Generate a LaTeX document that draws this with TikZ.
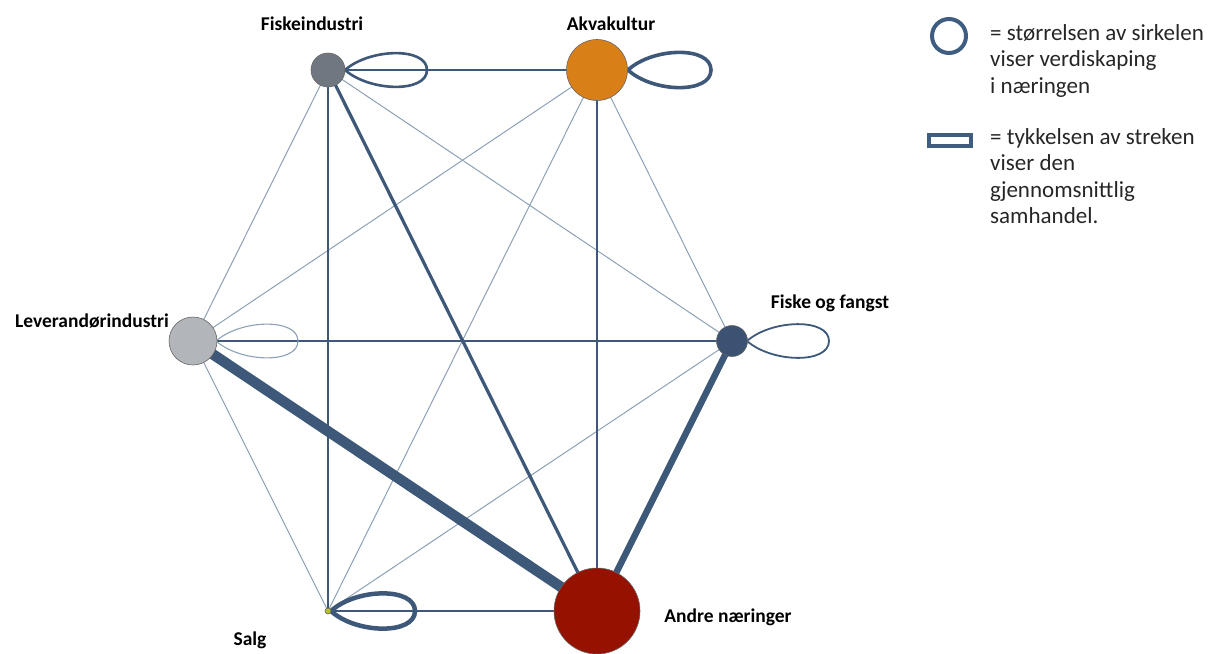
\documentclass[tikz,border=0pt]{standalone}
\usepackage{fontspec}
\setmainfont{Carlito}
\definecolor{edgec}{HTML}{3D5878}
\definecolor{thinc}{HTML}{8DA0B6}
\definecolor{cfisk}{HTML}{6F7780}
\definecolor{cakva}{HTML}{D97F18}
\definecolor{clev}{HTML}{B2B5BA}
\definecolor{cfog}{HTML}{3B5272}
\definecolor{candre}{HTML}{961200}
\definecolor{csalg}{HTML}{B5C22A}
\definecolor{legc}{HTML}{3F5D80}
\begin{document}
\begin{tikzpicture}[x=1pt,y=-1pt,
  sector/.style={circle,inner sep=0pt,draw=black!60,line width=0.6pt},
  lbl/.style={font=\fontsize{19.5}{22}\selectfont\bfseries,inner sep=0pt},
  thinedge/.style={draw=thinc,line width=1pt},
  edge/.style={draw=edgec},
  legtext/.style={font=\fontsize{23}{26.5}\selectfont,align=left,inner sep=0pt,anchor=north west,text=black!85}
]
\useasboundingbox (0,0) rectangle (1212,653);

% node positions
\coordinate (pfisk) at (328,70);
\coordinate (pakva) at (597,70);
\coordinate (plev) at (193,341);
\coordinate (pfog) at (732,341);
\coordinate (pandre) at (597,611);
\coordinate (psalg) at (328,611);

% thin edges
\draw[thinedge] (pfisk) -- (plev);
\draw[thinedge] (pfisk) -- (pfog);
\draw[thinedge] (pakva) -- (plev);
\draw[thinedge] (pakva) -- (psalg);
\draw[thinedge] (pakva) -- (pfog);
\draw[thinedge] (plev) -- (psalg);
\draw[thinedge] (pfog) -- (psalg);

% thicker edges
\draw[edge,line width=2.6pt] (pfisk) -- (pakva);
\draw[edge,line width=2.6pt] (pfisk) -- (psalg);
\draw[edge,line width=3.2pt] (pfisk) -- (pandre);
\draw[edge,line width=2.6pt] (pakva) -- (pandre);
\draw[edge,line width=2pt] (plev) -- (pfog);
\draw[edge,line width=10.5pt] (plev) -- (pandre);
\draw[edge,line width=6.5pt] (pfog) -- (pandre);
\draw[edge,line width=2.2pt] (psalg) -- (pandre);

% self loops
\draw[edge,line width=2.6pt] (345,70) .. controls +(25,-22) and +(0,-23) .. (427,70) .. controls +(0,23) and +(25,22) .. (345,70);
\draw[edge,line width=3.6pt] (628,70) .. controls +(25,-23) and +(0,-24) .. (711,70) .. controls +(0,24) and +(25,23) .. (628,70);
\draw[thinedge,line width=1.1pt] (216,341) .. controls +(25,-22) and +(0,-23) .. (298,341) .. controls +(0,23) and +(25,22) .. (216,341);
\draw[edge,line width=1.8pt] (747,341) .. controls +(25,-22) and +(0,-23) .. (829,341) .. controls +(0,23) and +(25,22) .. (747,341);
\draw[edge,line width=4.5pt] (331,611) .. controls +(25,-23) and +(0,-24) .. (415,611) .. controls +(0,24) and +(25,23) .. (331,611);

% sector nodes
\node[sector,fill=cfisk,minimum size=34pt] (fisk) at (pfisk) {};
\node[sector,fill=cakva,minimum size=61pt] (akva) at (pakva) {};
\node[sector,fill=clev,minimum size=48pt] (lev) at (plev) {};
\node[sector,fill=cfog,minimum size=31pt] (fog) at (pfog) {};
\node[sector,fill=candre,minimum size=86pt] (andre) at (pandre) {};
\node[sector,fill=csalg,minimum size=6pt] (salg) at (psalg) {};

% labels
\node[lbl] (lfisk) at (312,24) {Fiskeindustri};
\node[lbl] (lakva) at (611,24) {Akvakultur};
\node[lbl] (llev) at (92,321) {Leverandørindustri};
\node[lbl] (lfog) at (830,303) {Fiske og fangst};
\node[lbl] (lsalg) at (250,640) {Salg};
\node[lbl] (landre) at (728,617) {Andre næringer};

% legend
\node[circle,draw=legc,line width=4pt,minimum size=34pt,inner sep=0pt] (legcirc) at (949,36) {};
\node[rectangle,draw=legc,line width=4pt,minimum width=42pt,minimum height=11pt,inner sep=0pt] (legrect) at (950,140) {};
\node[legtext] (legt1) at (990,24) {= størrelsen av sirkelen\\viser verdiskaping\\i næringen};
\node[legtext] (legt2) at (990,128) {= tykkelsen av streken\\viser den\\gjennomsnittlig\\samhandel.};
\end{tikzpicture}
\end{document}
